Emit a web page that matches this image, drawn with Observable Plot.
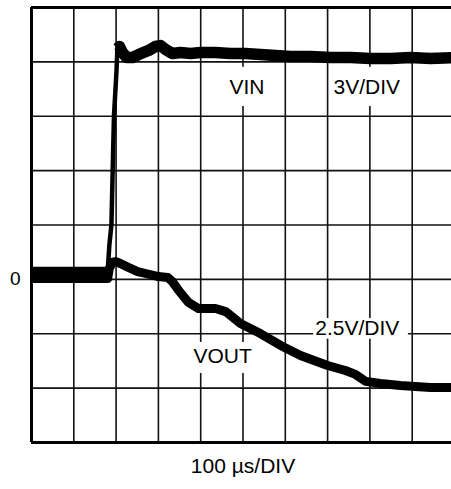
<!DOCTYPE html>
<html><head><meta charset="utf-8">
<script src="https://cdn.jsdelivr.net/npm/d3@7"></script>
<script src="https://cdn.jsdelivr.net/npm/@observablehq/plot@0.6"></script>
<style>body{margin:0;background:#fff}</style>
</head><body><div id="chart"></div>
<script>
// Time axis in microseconds (100 µs/DIV), voltages in volts
const vinTime  = [0,180,184,189,193,195,201,203,208,215,225,239,258,277,293,305,317,333,352,376,400,435,470,506,541,577,612,660,707,754,801,849,896,943,1000];
const vinVolts = [0.38,0.38,1.87,3.03,7.11,9.04,11.52,12.74,12.85,12.52,12.24,12.24,12.46,12.63,12.85,12.90,12.68,12.46,12.52,12.46,12.52,12.52,12.46,12.46,12.41,12.35,12.30,12.30,12.24,12.24,12.19,12.19,12.24,12.19,12.24];
const voutTime  = [0,180,184,191,199,210,229,251,270,300,322,333,348,371,395,435,459,494,541,589,636,700,742,766,790,825,872,943,1000];
const voutVolts = [0.04,0.04,0.50,0.78,0.82,0.73,0.55,0.36,0.27,0.13,0.09,-0.10,-0.51,-1.06,-1.34,-1.34,-1.48,-2.03,-2.49,-3.04,-3.50,-3.96,-4.19,-4.37,-4.69,-4.79,-4.88,-4.97,-4.97];
const vinPerDiv = 3;      // 3V/DIV
const voutPerDiv = 2.5;   // 2.5V/DIV
const timeGrid = [100,200,300,400,500,600,700,800,900];
const divGrid = [-2,-1,0,1,2,3,4];
const xLabel = "100 µs/DIV";
const zeroLabel = "0";

const vin = vinTime.map((t,i) => ({t, d: vinVolts[i]/vinPerDiv}));
const vout = voutTime.map((t,i) => ({t, d: voutVolts[i]/voutPerDiv}));
// flat (noisy) parts of VIN, before and after the rising edge
const vinFlat = vin.filter(p => p.t <= 180 || p.t >= 203).map(p => ({...p, seg: p.t <= 180 ? "pre" : "post"}));

// annotations (time µs, divisions)
const labels = [
  {text:"VIN", t:468, d:3.54},
  {text:"3V/DIV", t:714, d:3.54},
  {text:"VOUT", t:383, d:-1.41},
  {text:"2.5V/DIV", t:671, d:-0.894}
];
const boxes = [
  {x1:463, x2:563, y1:3.18, y2:3.90},
  {x1:709, x2:884, y1:3.18, y2:3.90},
  {x1:378, x2:530, y1:-1.73, y2:-1.16},
  {x1:667, x2:891, y1:-1.10, y2:-0.72}
];
const font = "'Liberation Sans', Arial, sans-serif";

const chart = Plot.plot({
  width: 451, height: 489,
  marginLeft: 31, marginRight: -3, marginTop: 7, marginBottom: 47,
  style: {fontFamily: font, background: "#fff", overflow: "hidden"},
  x: {domain: [0, 1000], axis: null},
  y: {domain: [-3, 5], axis: null},
  marks: [
    Plot.ruleX(timeGrid, {stroke: "#111", strokeWidth: 1.6}),
    Plot.ruleY(divGrid, {stroke: "#111", strokeWidth: 1.6}),
    Plot.ruleY([-3, 5], {stroke: "#000", strokeWidth: 3}),
    Plot.ruleX([0], {stroke: "#000", strokeWidth: 3}),
    Plot.rect(boxes, {x1:"x1", x2:"x2", y1:"y1", y2:"y2", fill:"#fff"}),
    Plot.line(vout, {x:"t", y:"d", stroke:"#000", strokeWidth: 9, strokeLinejoin:"round", strokeLinecap:"butt"}),
    Plot.line(vin, {x:"t", y:"d", stroke:"#000", strokeWidth: 4.5, strokeLinejoin:"round", strokeLinecap:"butt"}),
    Plot.line(vinFlat, {x:"t", y:"d", z:"seg", stroke:"#000", strokeWidth: 11.5, strokeLinejoin:"round", strokeLinecap:"butt"}),
    Plot.text(labels, {x:"t", y:"d", text:"text", textAnchor:"start", fontSize: 21, fill:"#000"}),
    Plot.text([zeroLabel], {x: 0, y: 0, textAnchor:"end", dx:-11, fontSize: 19, fill:"#000"}),
    Plot.text([xLabel], {frameAnchor:"bottom", dy: 30, fontSize: 21, fill:"#000"})
  ]
});
document.getElementById("chart").append(chart);
</script>
</body></html>
